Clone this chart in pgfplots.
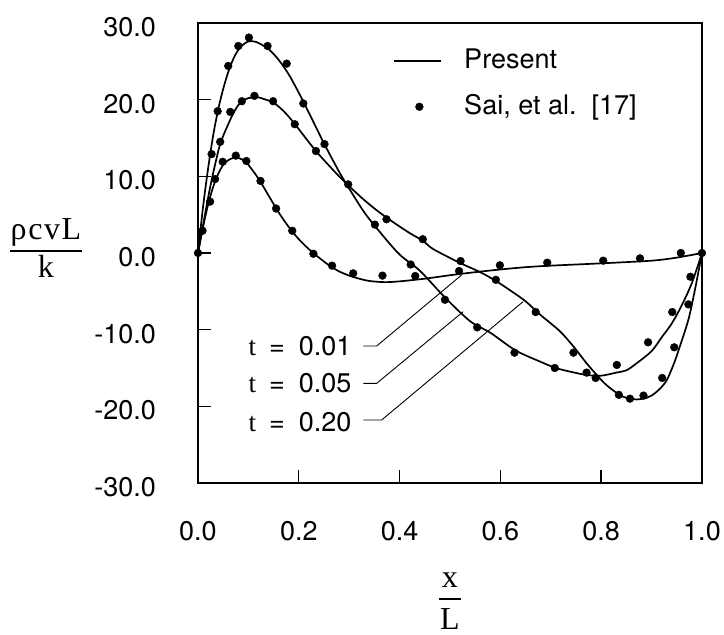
\documentclass[border=0pt]{standalone}
\usepackage{pgfplots}
\pgfplotsset{compat=1.18}
\usepackage{fontspec}
\setmainfont{TeX Gyre Heros}
\newfontfamily\serif{Liberation Serif}
\newfontfamily\serifwide[LetterSpace=5]{Liberation Serif}
\newcommand\fs{\fontsize{27}{32}\selectfont}
\newcommand\fss{\fontsize{32}{32}\selectfont}
\begin{document}
\fs
\begin{tikzpicture}[x=1pt,y=1pt]
\path[use as bounding box] (-198,-152) rectangle (526,483);
\begin{axis}[
  at={(0,0)}, anchor=south west, scale only axis,
  width=504pt, height=460pt,
  xmin=0, xmax=1, ymin=-30, ymax=30,
  xtick={0,0.2,0.4,0.6,0.8,1}, xticklabels={0.0,0.2,0.4,0.6,0.8,1.0},
  ytick={-30,-20,-10,0,10,20,30},
  yticklabels={-30.0,-20.0,-10.0,0.0,10.0,20.0,30.0},
  tick align=inside, xtick pos=lower, ytick pos=left,
  major tick length=13pt,
  tick style={black, line width=1.4pt},
  axis line style={line width=2pt},
  tick label style={font=\fs},
  yticklabel style={xshift=-33pt, yshift=-4pt},
  xticklabel style={yshift=-29pt},
  clip=false,
  legend style={draw=none, fill=none, at={(rel axis cs:0.388,0.948)},
    anchor=north west, font=\fs, inner sep=0pt, outer sep=0pt, row sep=18pt},
  legend cell align=left,
]
% t = 0.01
\addplot[smooth, black, line width=1.7pt,
  legend image code/.code={\draw[black, line width=1.7pt] (0pt,0pt) -- (47pt,0pt);}]
coordinates {(0,0)(0.01,3.4)(0.02,6.3)(0.03,8.6)(0.04,10.3)(0.05,11.5)(0.06,12.1)
(0.07,12.4)(0.08,12.4)(0.09,12.1)(0.10,11.5)(0.12,9.7)(0.14,7.5)(0.16,5.3)(0.18,3.4)
(0.20,1.8)(0.22,0.5)(0.24,-0.6)(0.26,-1.6)(0.28,-2.4)(0.30,-2.95)(0.32,-3.35)
(0.34,-3.65)(0.37,-3.8)(0.40,-3.7)(0.45,-3.35)(0.50,-2.9)(0.55,-2.5)(0.60,-2.15)
(0.65,-1.85)(0.70,-1.65)(0.80,-1.35)(0.90,-1.0)(0.95,-0.6)(1.0,0)};
\addlegendentry{\hspace{20pt}Present}
\addplot[only marks, mark=*, mark size=3.9pt, black,
  legend image code/.code={\path[draw=none,fill=none] (0pt,0pt) -- (47pt,0pt); \fill[black] (25pt,0pt) circle (3.9pt);}]
coordinates {
(0,0)(0.009,2.9)(0.024,6.7)(0.034,9.65)(0.049,11.9)(0.075,12.7)(0.096,12.0)(0.124,9.4)
(0.155,5.8)(0.187,2.9)(0.229,-0.1)(0.266,-1.65)(0.308,-2.65)(0.366,-2.95)(0.431,-3.0)
(0.518,-2.35)(0.599,-1.6)(0.693,-1.26)(0.804,-1.0)(0.877,-0.7)(0.958,0.0)(1,0)
(0.027,12.9)(0.039,18.5)(0.060,24.4)(0.080,27.0)(0.101,28.1)(0.138,27.0)(0.176,24.7)
(0.209,19.5)(0.251,14.2)(0.298,8.95)(0.351,3.7)(0.422,-1.5)(0.49,-6.1)(0.554,-9.7)
(0.628,-13.0)(0.708,-15.0)(0.771,-15.6)(0.831,-14.6)(0.893,-11.65)(0.941,-7.7)(0.977,-3.1)
(0.044,14.5)(0.064,18.4)(0.087,19.8)(0.112,20.5)(0.149,19.8)(0.192,16.8)(0.234,13.3)
(0.374,4.4)(0.446,1.8)(0.521,-1.05)(0.591,-3.5)(0.670,-7.7)(0.745,-13.0)(0.789,-16.3)
(0.835,-18.5)(0.857,-19.0)(0.884,-18.6)(0.921,-16.3)(0.945,-12.3)(0.973,-6.7)};
\addlegendentry{\hspace{20pt}Sai, et al.\ \ [17]}
% t = 0.05
\addplot[smooth, black, line width=1.7pt, forget plot]
coordinates {(0,0)(0.01,6.0)(0.02,11.0)(0.03,15.3)(0.04,18.7)(0.05,21.4)(0.06,23.6)
(0.07,25.3)(0.08,26.5)(0.09,27.2)(0.10,27.6)(0.11,27.6)(0.12,27.4)(0.14,26.6)
(0.16,25.2)(0.18,23.3)(0.20,20.9)(0.22,18.3)(0.25,14.3)(0.28,10.6)(0.30,8.4)
(0.33,5.3)(0.36,2.8)(0.40,-0.2)(0.44,-2.3)(0.49,-5.8)(0.54,-8.9)(0.58,-10.4)
(0.63,-12.7)(0.68,-14.2)(0.71,-15.0)(0.74,-15.5)(0.77,-15.9)(0.80,-16.0)
(0.83,-15.6)(0.85,-15.3)(0.87,-14.4)(0.90,-12.8)(0.92,-11.0)(0.94,-9.2)
(0.96,-6.8)(0.98,-3.9)(1,0)};
% t = 0.20
\addplot[smooth, black, line width=1.7pt, forget plot]
coordinates {(0,0)(0.01,3.6)(0.02,7.2)(0.03,10.4)(0.044,14.2)(0.06,16.8)(0.07,18.2)
(0.08,19.3)(0.09,19.9)(0.10,20.2)(0.11,20.3)(0.12,20.3)(0.13,20.1)(0.15,19.6)
(0.17,18.5)(0.19,17.0)(0.21,15.3)(0.234,13.3)(0.26,11.4)(0.28,10.0)(0.30,8.7)
(0.33,6.9)(0.36,5.3)(0.39,3.9)(0.42,2.6)(0.446,1.6)(0.467,0.5)(0.52,-1.3)(0.56,-2.5)
(0.59,-3.6)(0.62,-4.9)(0.65,-6.3)(0.68,-8.1)(0.718,-10.2)(0.745,-12.2)(0.77,-14.3)
(0.791,-15.9)(0.81,-17.2)(0.834,-18.4)(0.85,-18.9)(0.87,-19.1)(0.89,-18.9)
(0.90,-18.6)(0.915,-17.8)(0.93,-16.6)(0.945,-14.3)(0.956,-12.2)(0.973,-8.7)
(0.986,-4.8)(1,0)};
% leaders and labels
\draw[line width=0.9pt] (axis cs:0.328,-12.13) -- (axis cs:0.3546,-12.13) -- (axis cs:0.523,-2.87);
\draw[line width=0.9pt] (axis cs:0.328,-17.0) -- (axis cs:0.3546,-17.0) -- (axis cs:0.526,-7.66);
\draw[line width=0.9pt] (axis cs:0.328,-21.78) -- (axis cs:0.3645,-21.78) -- (axis cs:0.645,-6.35);
\node[anchor=base east, inner sep=0pt, font=\fs] at (axis cs:0.305,-13.43) {{\serif t}\hspace{13pt}=\hspace{14pt}0.01};
\node[anchor=base east, inner sep=0pt, font=\fs] at (axis cs:0.305,-18.22) {{\serif t}\hspace{13pt}=\hspace{14pt}0.05};
\node[anchor=base east, inner sep=0pt, font=\fs] at (axis cs:0.305,-23.3) {{\serif t}\hspace{13pt}=\hspace{14pt}0.20};
% axis labels (y)
\node[anchor=base, inner sep=0pt, font=\fss] at ([yshift=12pt]rel axis cs:-0.3016,0.504) {\serifwide ρcvL};
\draw[line width=1.6pt] ([xshift=-36pt]rel axis cs:-0.3016,0.504) -- ([xshift=36pt]rel axis cs:-0.3016,0.504);
\node[anchor=base, inner sep=0pt, font=\fss] at ([yshift=-26pt]rel axis cs:-0.3016,0.504) {\serif k};
% axis labels (x)
\node[anchor=base, inner sep=0pt, font=\fss] at ([yshift=12pt]rel axis cs:0.5,-0.2522) {\serif x};
\draw[line width=1.6pt] ([xshift=-11pt]rel axis cs:0.5,-0.2522) -- ([xshift=11pt]rel axis cs:0.5,-0.2522);
\node[anchor=base, inner sep=0pt, font=\fss] at ([yshift=-30pt]rel axis cs:0.5,-0.2522) {\serif L};
\end{axis}
\end{tikzpicture}
\end{document}
